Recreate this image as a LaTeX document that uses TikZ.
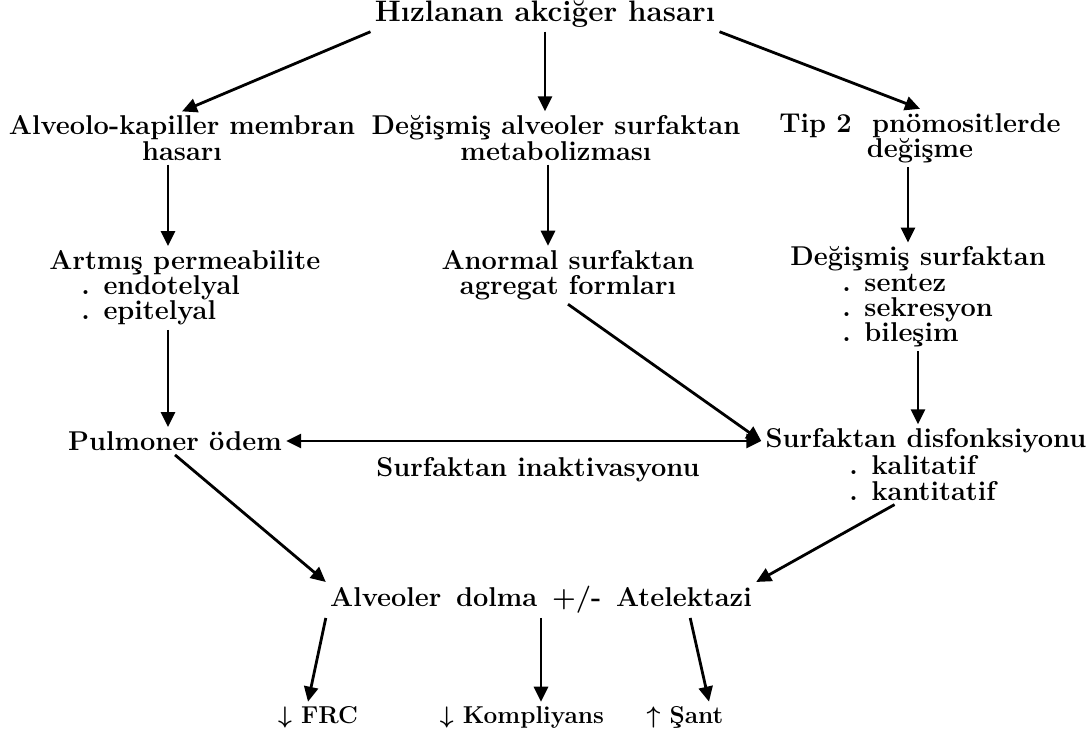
\documentclass[tikz,border=0pt]{standalone}
\usepackage{fontspec}
\usetikzlibrary{positioning, arrows.meta}

\begin{document}
\begin{tikzpicture}[
    x=0.5pt, y=-0.5pt,
    >={Triangle[length=7.5pt, width=7pt]},
    lbl/.style={inner sep=2pt, align=center,
                font=\fontsize{13.6}{12.6}\selectfont\bfseries\boldmath},
    liste/.style={lbl, align=left},
    sonuc/.style={lbl, font=\fontsize{12.2}{12.6}\selectfont\bfseries\boldmath},
    arrow/.style={->, line width=1.4pt}
]
  \useasboundingbox (0,0) rectangle (1089,731);

  % Top
  \node[lbl, font=\fontsize{14.8}{13}\selectfont\bfseries] (hasar) at (545,14) {Hızlanan akciğer hasarı};

  % Second row
  \node[lbl] (membran) at (182,138) {Alveolo-kapiller membran\\hasarı};
  \node[lbl] (degmet) at (556,138) {Değişmiş alveoler surfaktan\\metabolizması};
  \node[lbl] (tip2) at (920,138) {Tip 2~~pnömositlerde\\değişme};

  % Third row
  \node[liste, anchor=west] (artmis) at (45,288)
    {Artmış permeabilite\\\hspace*{16pt}. endotelyal\\\hspace*{16pt}. epitelyal};
  \node[lbl] (anormal) at (568,275) {Anormal surfaktan\\agregat formları};
  \node[liste, anchor=west] (degsurf) at (786,297)
    {Değişmiş surfaktan\\\hspace*{26pt}. sentez\\\hspace*{26pt}. sekresyon\\\hspace*{26pt}. bileşim};

  % Fourth row
  \node[lbl] (pulmoner) at (175,441) {Pulmoner ödem};
  \node[lbl] (disfonk) at (926,441) {Surfaktan disfonksiyonu};
  \node[liste, anchor=west] (disliste) at (845,478) {. kalitatif\\. kantitatif};
  \node[lbl] (inakt) at (538,470) {Surfaktan inaktivasyonu};

  % Bottom
  \node[lbl] (alveoler) at (541,600) {Alveoler\ \,dolma\ \,+/-\ \,Atelektazi};
  \node[sonuc] (frc) at (318,717) {$\downarrow$ FRC};
  \node[sonuc] (komp) at (522,717) {$\downarrow$ Kompliyans};
  \node[sonuc] (sant) at (685,717) {$\uparrow$ Şant};

  % Arrows
  \draw[arrow] (hasar.south west) -- (membran.north);
  \draw[arrow] (hasar.south) -- (hasar.south |- degmet.north);
  \draw[arrow] (hasar.south east) -- (tip2.north);
  \draw[arrow] ([xshift=-7pt]membran.south) -- ([xshift=-7pt]membran.south |- artmis.north);
  \draw[arrow] ([xshift=-4pt]degmet.south) -- ([xshift=-4pt]degmet.south |- anormal.north);
  \draw[arrow] ([xshift=-6pt]tip2.south) -- ([xshift=-6pt]tip2.south |- degsurf.north);
  \draw[arrow] ([xshift=-3.5pt]pulmoner.north |- artmis.south) -- ([xshift=-3.5pt]pulmoner.north);
  \draw[arrow] ([xshift=-4pt]disfonk.north |- degsurf.south) -- ([xshift=-4pt]disfonk.north);
  \draw[arrow] (anormal.south) -- (disfonk.west);
  \draw[<->, line width=1.4pt] (pulmoner.east) -- (disfonk.west);
  \draw[arrow] (pulmoner.south) -- (alveoler.north west);
  \draw[arrow] ([xshift=-14pt]disliste.south) -- (alveoler.north east);
  \draw[arrow] (alveoler.south west) -- ([xshift=-5pt]frc.north);
  \draw[arrow] (alveoler.south) -- (alveoler.south |- komp.north);
  \draw[arrow] ([xshift=-33pt]alveoler.south east) -- ([xshift=12pt]sant.north);
\end{tikzpicture}
\end{document}
